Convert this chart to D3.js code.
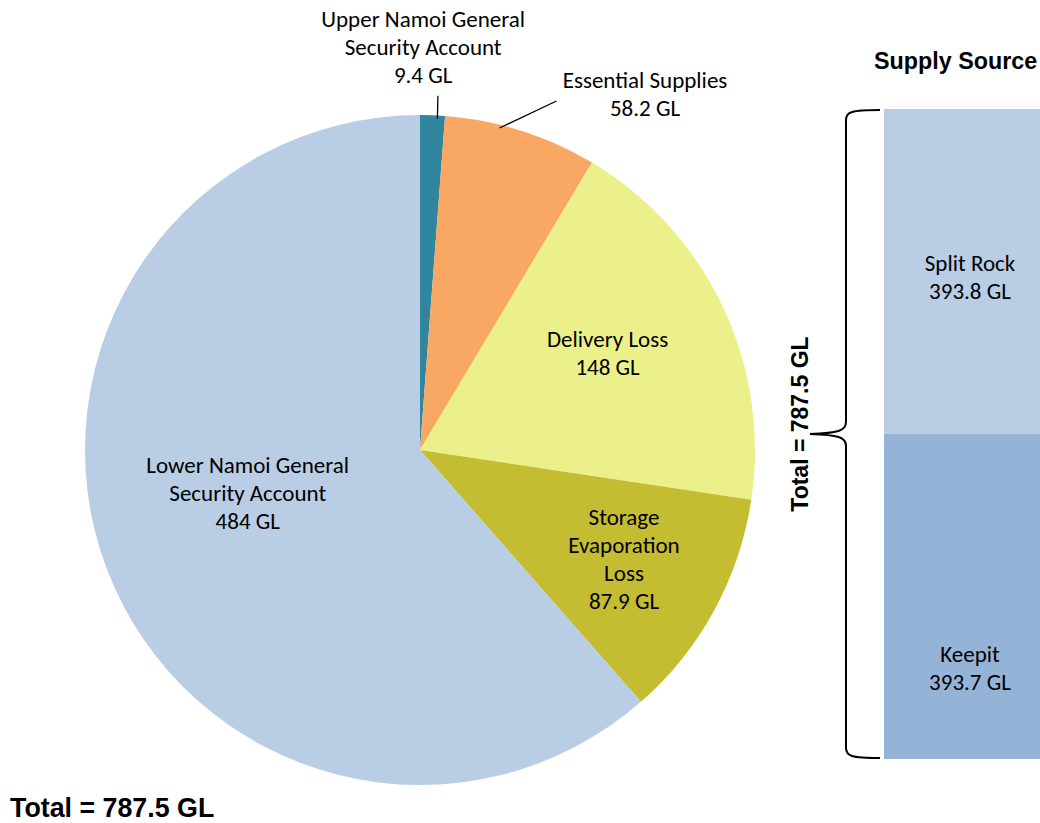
<!DOCTYPE html>
<html>
<head>
<meta charset="utf-8">
<script src="https://cdn.jsdelivr.net/npm/d3@7"></script>
<style>
  body { margin: 0; background: #fff; }
  svg { display: block; }
</style>
</head>
<body>
<svg id="vis-svg" width="1040" height="823"></svg>
<script>
var width = 1040;
var height = 823;

// usage of water (GL), clockwise from 12 o'clock
const useNames = [
  ["Upper Namoi General", "Security Account"],
  ["Essential Supplies"],
  ["Delivery Loss"],
  ["Storage", "Evaporation", "Loss"],
  ["Lower Namoi General", "Security Account"]
];
const useValues = [9.4, 58.2, 148, 87.9, 484];
const useColors = ["#31859C", "#F9A864", "#EBF08B", "#C4BD32", "#B9CDE5"];

// supply source (GL), top to bottom
const sourceNames = ["Split Rock", "Keepit"];
const sourceValues = [393.8, 393.7];
const sourceColors = ["#B9CDE5", "#95B3D7"];

const totalLabel = "Total = 787.5 GL";

const svg = d3.select("#vis-svg");
const font = "Carlito, Lato, 'Liberation Sans', sans-serif";
const boldFont = "'Liberation Sans', Arial, sans-serif";
const fs = 23;

// ---- pie ----
const cx = 420, cy = 450, r = 335;
const pie = d3.pie().sort(null).value(d => d)(useValues);
const arc = d3.arc().innerRadius(0).outerRadius(r);

const g = svg.append("g").attr("transform", `translate(${cx},${cy})`);
g.selectAll("path.slice").data(pie).enter()
  .append("path")
  .attr("class", "slice")
  .attr("fill", (d, i) => useColors[i])
  .attr("d", arc);

// label placement: [angle offset from slice mid (deg), radius factor]
const labelPlace = [
  [-1.7, 1.203], [14.7, 1.257], [-2, 0.63], [-0.6, 0.69], [6.6, 0.53]
];
const lineH = 28;

const polar = (a, rad) => [Math.sin(a) * rad, -Math.cos(a) * rad];

pie.forEach((d, i) => {
  const mid = (d.startAngle + d.endAngle) / 2 + labelPlace[i][0] * Math.PI / 180;
  const [lx, ly] = polar(mid, r * labelPlace[i][1]);
  const lines = useNames[i].concat([d3.format(",")(useValues[i]) + " GL"]);
  const t = g.append("text")
    .attr("text-anchor", "middle")
    .attr("font-family", font)
    .attr("font-size", fs)
    .attr("fill", "#000");
  const y0 = ly - (lines.length - 1) * lineH / 2;
  lines.forEach((s, k) => {
    t.append("tspan")
      .attr("x", lx)
      .attr("y", y0 + k * lineH)
      .attr("dy", "0.35em")
      .text(s);
  });
});

// leader lines for the two outside labels
const midA = d => (d.startAngle + d.endAngle) / 2;
{
  const a = midA(pie[0]) + 0.015;
  const p1 = polar(a, r * 0.99);
  g.append("line")
    .attr("x1", p1[0]).attr("y1", p1[1])
    .attr("x2", p1[0] + 0.5).attr("y2", p1[1] - 23)
    .attr("stroke", "#000").attr("stroke-width", 1.3);
}
{
  const a = midA(pie[1]) - 0.065;
  const p1 = polar(a, r * 0.99);
  g.append("line")
    .attr("x1", p1[0]).attr("y1", p1[1])
    .attr("x2", p1[0] + 57).attr("y2", p1[1] - 27)
    .attr("stroke", "#000").attr("stroke-width", 1.3);
}

// ---- supply source stacked bar ----
const barX = 884, barW = 172;
const y = d3.scaleLinear()
  .domain([0, d3.sum(sourceValues)])
  .range([109, 759]);
let acc = 0;
const stack = sourceValues.map((v, i) => {
  const s = { name: sourceNames[i], v: v, y0: acc, y1: acc + v, c: sourceColors[i] };
  acc += v;
  return s;
});

svg.selectAll("rect.src").data(stack).enter()
  .append("rect")
  .attr("class", "src")
  .attr("x", barX)
  .attr("y", d => y(d.y0))
  .attr("width", barW)
  .attr("height", d => y(d.y1) - y(d.y0))
  .attr("fill", d => d.c);

const barLabelShift = [-9, 57];
stack.forEach((d, i) => {
  const my = (y(d.y0) + y(d.y1)) / 2 + barLabelShift[i];
  const t = svg.append("text")
    .attr("text-anchor", "middle")
    .attr("font-family", font)
    .attr("font-size", fs)
    .attr("fill", "#000");
  [d.name, d3.format(".1f")(d.v) + " GL"].forEach((s, k) => {
    t.append("tspan")
      .attr("x", barX + 86)
      .attr("y", my + k * lineH)
      .attr("dy", "0.35em")
      .text(s);
  });
});

svg.append("text")
  .attr("x", 874)
  .attr("y", 61)
  .attr("dy", "0.35em")
  .attr("font-family", boldFont)
  .attr("font-weight", "bold")
  .attr("font-size", 23.3)
  .text("Supply Source");

// curly brace
const bTop = y(0) + 1, bBot = y(d3.sum(sourceValues)) - 1, midY = y(sourceValues[0]);
const bx = 846, tipX = 810, endX = 880;
const brace = `M${endX},${bTop} C${bx+5},${bTop} ${bx},${bTop+2} ${bx},${bTop+10}`
  + ` L${bx},${midY-12} C${bx},${midY-3} ${bx-8},${midY-1} ${tipX},${midY}`
  + ` C${bx-8},${midY+1} ${bx},${midY+3} ${bx},${midY+12}`
  + ` L${bx},${bBot-10} C${bx},${bBot-2} ${bx+5},${bBot} ${endX},${bBot}`;
svg.append("path")
  .attr("d", brace)
  .attr("fill", "none")
  .attr("stroke", "#000")
  .attr("stroke-width", 2);

svg.append("text")
  .attr("transform", `translate(808,${midY - 10}) rotate(-90)`)
  .attr("text-anchor", "middle")
  .attr("font-family", boldFont)
  .attr("font-weight", "bold")
  .attr("font-size", 23)
  .text(totalLabel);

svg.append("text")
  .attr("x", 10)
  .attr("y", 817)
  .attr("font-family", boldFont)
  .attr("font-weight", "bold")
  .attr("font-size", 26.8)
  .text(totalLabel);
</script>
</body>
</html>
